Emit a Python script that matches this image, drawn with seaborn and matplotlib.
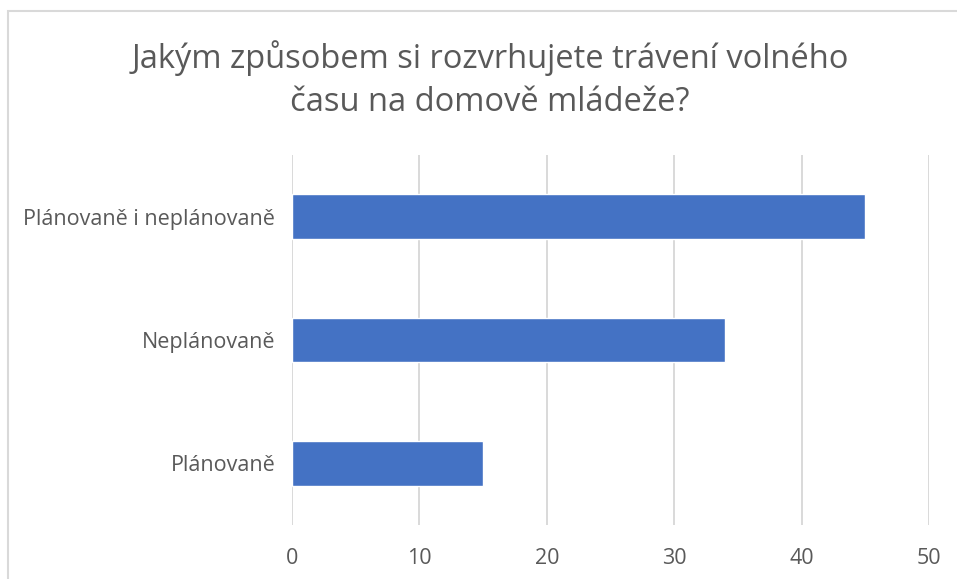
import pandas as pd
import matplotlib.pyplot as plt
import seaborn as sns
from matplotlib.patches import Rectangle

categories = ["Plánovaně i neplánovaně", "Neplánovaně", "Plánovaně"]
counts = [45, 34, 15]
xticks = [0, 10, 20, 30, 40, 50]

sns.set_style("white")
plt.rcParams["font.family"] = ["Open Sans", "DejaVu Sans"]

df = pd.DataFrame({"odpoved": categories, "pocet": counts})

fig = plt.figure(figsize=(9.57, 5.79), dpi=100)
ax = fig.add_axes([292 / 957, 1 - 525 / 579, 637 / 957, 370 / 579])

# light frame like the Excel chart area
fig.patches.append(Rectangle((8 / 957, -0.1), 1.2, 1 - 11 / 579 + 0.1,
                             transform=fig.transFigure, fill=False,
                             edgecolor="#D9D9D9", linewidth=1.5))

sns.barplot(data=df, x="pocet", y="odpoved", orient="h", color="#4472C4",
            width=0.36, saturation=1, ax=ax, zorder=3)

ax.set_xlim(0, 50)
ax.set_xticks(xticks)
ax.grid(axis="x", color="#D9D9D9", linewidth=1.4, zorder=0)
ax.set_axisbelow(True)
for s in ax.spines.values():
    s.set_visible(False)
ax.set_xlabel("")
ax.set_ylabel("")
ax.tick_params(axis="x", length=0, pad=16.5, labelsize=15.5, labelcolor="#595959")
ax.tick_params(axis="y", length=0, pad=12, labelsize=15.5, labelcolor="#595959")

fig.text(490 / 957, 1 - 80 / 579,
         "Jakým způsobem si rozvrhujete trávení volného\nčasu na domově mládeže?",
         ha="center", va="center", fontsize=23.5, color="#595959",
         linespacing=1.4)

plt.savefig("out.png", dpi=100)
plt.close()
